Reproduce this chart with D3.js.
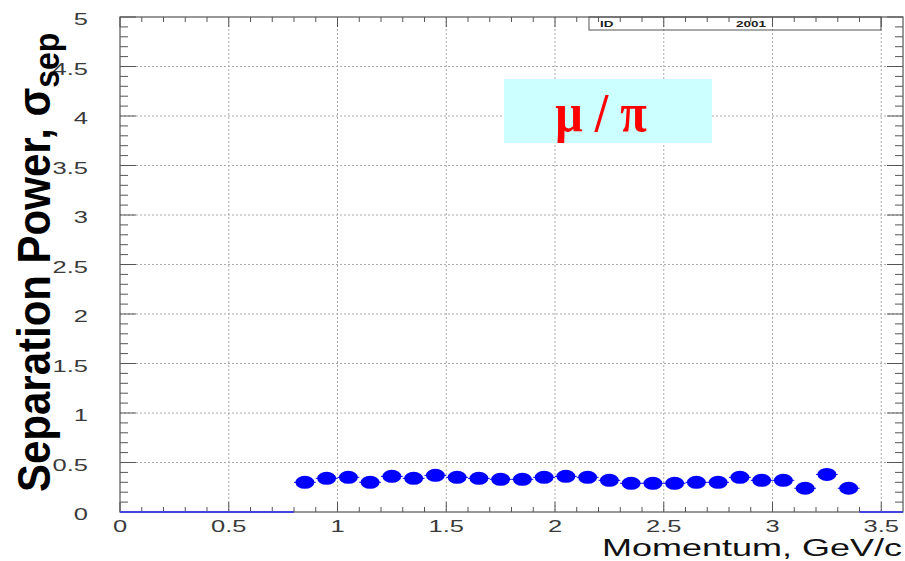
<!DOCTYPE html>
<html>
<head>
<meta charset="utf-8">
<script src="https://cdn.jsdelivr.net/npm/d3@7"></script>
<style>
  html, body { margin: 0; padding: 0; background: #fff; }
  svg { display: block; }
  text { font-family: "Liberation Sans", Arial, Helvetica, sans-serif; }
</style>
</head>
<body>
<svg id="chart" width="905" height="561"></svg>
<script>
// Bin centres (GeV/c) and separation power for mu / pi
const momentum = [0.85, 0.95, 1.05, 1.15, 1.25, 1.35, 1.45, 1.55, 1.65, 1.75,
                  1.85, 1.95, 2.05, 2.15, 2.25, 2.35, 2.45, 2.55, 2.65, 2.75,
                  2.85, 2.95, 3.05, 3.15, 3.25, 3.35];
const separation = [0.30, 0.34, 0.35, 0.30, 0.36, 0.34, 0.37, 0.35, 0.34, 0.33,
                     0.33, 0.35, 0.36, 0.35, 0.32, 0.29, 0.29, 0.29, 0.30, 0.30,
                     0.35, 0.32, 0.32, 0.24, 0.38, 0.24];
const binHalfWidth = 0.05;
// Momentum ranges whose bins are empty (drawn at zero)
const emptyRanges = [[0, 0.8], [3.4, 3.6]];

const xDomain = [0, 3.6];
const yDomain = [0, 5];
const xTickValues = [0, 0.5, 1, 1.5, 2, 2.5, 3, 3.5];
const yTickValues = [0, 0.5, 1, 1.5, 2, 2.5, 3, 3.5, 4, 4.5, 5];
const xTickLabels = ["0", "0.5", "1", "1.5", "2", "2.5", "3", "3.5"];
const yTickLabels = ["0", "0.5", "1", "1.5", "2", "2.5", "3", "3.5", "4", "4.5", "5"];

const statLabels = ["ID", "2001"];
const legendText = "\u03bc / \u03c0";

(function draw() {
  const svg = d3.select("#chart");
  const pLeft = 120, pRight = 903, pTop = 17, pBottom = 512;
  const x = d3.scaleLinear().domain(xDomain).range([pLeft, pRight]);
  const y = d3.scaleLinear().domain(yDomain).range([pBottom, pTop]);

  const frameColor = "#555";
  const labelColor = "#3a3a3a";
  const sx = 1.5; // horizontal stretch of the text glyphs

  // Dotted grid
  svg.append("g").selectAll("line").data(xTickValues.filter(v => v > 0)).join("line")
    .attr("x1", d => x(d)).attr("x2", d => x(d))
    .attr("y1", pTop).attr("y2", pBottom)
    .attr("stroke", "#aaa").attr("stroke-width", 1).attr("stroke-dasharray", "2,2");
  svg.append("g").selectAll("line").data(yTickValues.filter(v => v > 0 && v < 5)).join("line")
    .attr("x1", pLeft).attr("x2", pRight)
    .attr("y1", d => y(d)).attr("y2", d => y(d))
    .attr("stroke", "#aaa").attr("stroke-width", 1).attr("stroke-dasharray", "2,2");

  // Frame
  svg.append("rect")
    .attr("x", pLeft).attr("y", pTop).attr("width", pRight - pLeft).attr("height", pBottom - pTop)
    .attr("fill", "none").attr("stroke", frameColor).attr("stroke-width", 1.2);

  // Ticks (minor every 0.1)
  const xMinor = d3.range(0, 36).map(i => i / 10);
  const yMinor = d3.range(0, 51).map(i => i / 10);
  const isMajor = v => Math.abs(v * 2 - Math.round(v * 2)) < 1e-6;
  const ticks = svg.append("g").attr("stroke", frameColor).attr("stroke-width", 1);
  xMinor.forEach(v => {
    const len = isMajor(v) ? 10 : 5;
    ticks.append("line").attr("x1", x(v)).attr("x2", x(v)).attr("y1", pBottom).attr("y2", pBottom - len);
    ticks.append("line").attr("x1", x(v)).attr("x2", x(v)).attr("y1", pTop).attr("y2", pTop + len);
  });
  yMinor.forEach(v => {
    const len = isMajor(v) ? 16 : 8;
    ticks.append("line").attr("y1", y(v)).attr("y2", y(v)).attr("x1", pLeft).attr("x2", pLeft + len);
    ticks.append("line").attr("y1", y(v)).attr("y2", y(v)).attr("x1", pRight).attr("x2", pRight - len);
  });

  // Tick labels
  svg.append("g").selectAll("text").data(xTickValues).join("text")
    .attr("transform", d => `translate(${x(d)},532) scale(${sx},1)`)
    .attr("text-anchor", "middle").attr("font-size", 17).attr("fill", labelColor)
    .text((d, i) => xTickLabels[i]);
  svg.append("g").selectAll("text").data(yTickValues).join("text")
    .attr("transform", d => `translate(88,${y(d) + 8}) scale(${sx},1)`)
    .attr("text-anchor", "end").attr("font-size", 17).attr("fill", labelColor)
    .text((d, i) => yTickLabels[i]);

  // Stat box
  const sb = svg.append("g");
  sb.append("rect").attr("x", 589).attr("y", pTop).attr("width", 292).attr("height", 13)
    .attr("fill", "none").attr("stroke", frameColor).attr("stroke-width", 1);
  sb.append("text").attr("transform", `translate(600,27) scale(${sx},1)`)
    .attr("font-size", 9).attr("font-weight", "bold").attr("fill", "#222").text(statLabels[0]);
  sb.append("text").attr("transform", `translate(766,27) scale(${sx},1)`)
    .attr("text-anchor", "end")
    .attr("font-size", 9).attr("font-weight", "bold").attr("fill", "#222").text(statLabels[1]);

  // Empty bins at zero
  svg.append("g").selectAll("line").data(emptyRanges).join("line")
    .attr("x1", d => x(d[0])).attr("x2", d => x(d[1]))
    .attr("y1", y(0)).attr("y2", y(0))
    .attr("stroke", "#4444dd").attr("stroke-width", 2);

  // Horizontal bin-width bars and markers
  const pts = momentum.map((m, i) => ({ m, v: separation[i] }));
  svg.append("g").selectAll("line").data(pts).join("line")
    .attr("x1", d => x(d.m - binHalfWidth)).attr("x2", d => x(d.m + binHalfWidth))
    .attr("y1", d => y(d.v)).attr("y2", d => y(d.v))
    .attr("stroke", "#0000ff").attr("stroke-width", 1);
  svg.append("g").selectAll("ellipse").data(pts).join("ellipse")
    .attr("cx", d => x(d.m)).attr("cy", d => y(d.v))
    .attr("rx", 9.5).attr("ry", 6.5).attr("fill", "#0000ff");

  // Legend
  svg.append("rect").attr("x", 504).attr("y", 79).attr("width", 208).attr("height", 64)
    .attr("fill", "#ccffff");
  svg.append("text")
    .attr("transform", "translate(601,131) scale(0.88,1)")
    .attr("text-anchor", "middle")
    .style("font-family", "'Liberation Serif', 'Times New Roman', serif")
    .style("white-space", "pre")
    .attr("font-size", 55).attr("font-weight", "bold").attr("fill", "#ff0000")
    .text(legendText);

  // Axis titles
  svg.append("text")
    .attr("transform", `translate(902,556) scale(${sx},1)`)
    .attr("text-anchor", "end").attr("font-size", 24).attr("fill", "#111")
    .text("Momentum, GeV/c");

  const yt = svg.append("text")
    .attr("transform", `translate(50,492) rotate(-90) scale(1,1.1)`)
    .attr("font-size", 42).attr("font-weight", "bold").attr("fill", "#000");
  yt.append("tspan").text("Separation Power, \u03c3");
  yt.append("tspan").attr("dy", 8).attr("font-size", 32).text("sep");
})();
</script>
</body>
</html>
